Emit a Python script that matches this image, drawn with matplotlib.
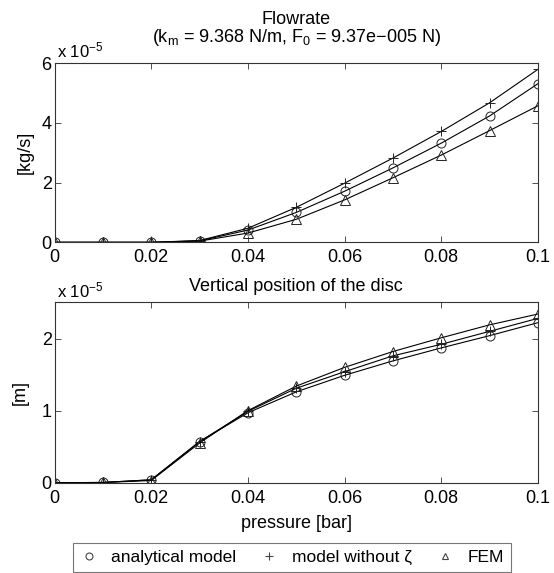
import matplotlib
matplotlib.use('Agg')
import matplotlib.pyplot as plt
from matplotlib.lines import Line2D

plt.rcParams['font.family'] = ['Liberation Sans', 'DejaVu Sans']
plt.rcParams['mathtext.fontset'] = 'custom'
plt.rcParams['mathtext.rm'] = 'Liberation Sans'
plt.rcParams['mathtext.it'] = 'Liberation Sans'

# pressure [bar]
pressure = [0, 0.01, 0.02, 0.03, 0.04, 0.05, 0.06, 0.07, 0.08, 0.09, 0.1]

# flowrate [kg/s], in units of 1e-5
flow_analytical = [0, 0, 0, 0.05, 0.41, 1.00, 1.71, 2.49, 3.32, 4.23, 5.31]
flow_no_zeta = [0, 0, 0, 0.06, 0.47, 1.17, 1.98, 2.82, 3.71, 4.67, 5.79]
flow_fem = [0, 0, 0, 0.04, 0.31, 0.77, 1.42, 2.16, 2.92, 3.74, 4.57]

# vertical position of the disc [m], in units of 1e-5
pos_analytical = [0, 0.003, 0.04, 0.57, 0.97, 1.26, 1.49, 1.69, 1.87, 2.04, 2.22]
pos_no_zeta = [0, 0.003, 0.04, 0.57, 0.99, 1.31, 1.54, 1.76, 1.92, 2.10, 2.28]
pos_fem = [0, 0.003, 0.03, 0.55, 1.00, 1.34, 1.60, 1.82, 2.01, 2.19, 2.34]

xticks = [0, 0.02, 0.04, 0.06, 0.08, 0.1]
xticklabels = ['0', '0.02', '0.04', '0.06', '0.08', '0.1']

fig = plt.figure(figsize=(5.54, 5.73), dpi=100)
ax1 = fig.add_axes([0.0984, 0.5771, 0.8727, 0.3129])
ax2 = fig.add_axes([0.0984, 0.1576, 0.8727, 0.3145])

lw = 0.8
ms = 6.5
fs = 13

def style(ax):
    ax.set_xlim(0, 0.1)
    ax.set_xticks(xticks)
    ax.set_xticklabels(xticklabels)
    ax.tick_params(direction='in', top=True, right=True, length=4,
                   width=0.6, labelsize=fs, color='#333333', pad=2)
    ax.tick_params(axis='x', pad=5)
    for s in ax.spines.values():
        s.set_color('#333333')
        s.set_linewidth(0.8)

# top: flowrate
ax1.plot(pressure, flow_analytical, color='black', lw=lw, marker='o', ms=ms, mfc='none', mec='#222222', mew=0.7)
ax1.plot(pressure, flow_no_zeta, color='black', lw=lw, marker='+', ms=ms + 1, mec='#222222', mew=0.7)
ax1.plot(pressure, flow_fem, color='black', lw=lw, marker='^', ms=ms, mfc='none', mec='#222222', mew=0.7)
style(ax1)
ax1.set_ylim(0, 6)
ax1.set_yticks([0, 2, 4, 6])
ax1.set_ylabel('[kg/s]', fontsize=fs, labelpad=6)
ax1.set_title('Flowrate\n(k$_\\mathrm{m}$ = 9.368 N/m, F$_\\mathrm{0}$ = 9.37e\u2212005 N)',
              fontsize=fs, pad=15, linespacing=0.95)
ax1.text(0.005, 1.012, 'x 10$^{-5}$', transform=ax1.transAxes, fontsize=fs - 1, ha='left', va='bottom')

# bottom: vertical position of the disc
ax2.plot(pressure, pos_analytical, color='black', lw=lw, marker='o', ms=ms, mfc='none', mec='#222222', mew=0.7)
ax2.plot(pressure, pos_no_zeta, color='black', lw=lw, marker='+', ms=ms + 1, mec='#222222', mew=0.7)
ax2.plot(pressure, pos_fem, color='black', lw=lw, marker='^', ms=ms, mfc='none', mec='#222222', mew=0.7)
style(ax2)
ax2.set_ylim(0, 2.5)
ax2.set_yticks([0, 1, 2])
ax2.set_ylabel('[m]', fontsize=fs, labelpad=9)
ax2.set_xlabel('pressure [bar]', fontsize=fs, labelpad=6)
ax2.set_title('Vertical position of the disc', fontsize=fs, pad=8)
ax2.text(0.005, 1.012, 'x 10$^{-5}$', transform=ax2.transAxes, fontsize=fs - 1, ha='left', va='bottom')

handles = [Line2D([], [], ls='none', marker='o', ms=5, mfc='none', mec='#444444', mew=0.8),
           Line2D([], [], ls='none', marker='+', ms=6, mec='#444444', mew=0.8),
           Line2D([], [], ls='none', marker='^', ms=5, mfc='none', mec='#444444', mew=0.8)]
labels = ['analytical model', 'model without \u03b6', 'FEM']
leg = fig.legend(handles, labels, ncol=3, loc='upper left',
                 bbox_to_anchor=(73 / 554, 0, 438 / 554, 30 / 573),
                 mode='expand', fontsize=fs - 0.5, frameon=True, fancybox=False,
                 handlelength=1.0, handletextpad=0.8, columnspacing=1.0,
                 borderpad=0.4, borderaxespad=0)
leg.get_frame().set_edgecolor('#555555')
leg.get_frame().set_linewidth(0.8)

fig.savefig('out.png', dpi=100)
